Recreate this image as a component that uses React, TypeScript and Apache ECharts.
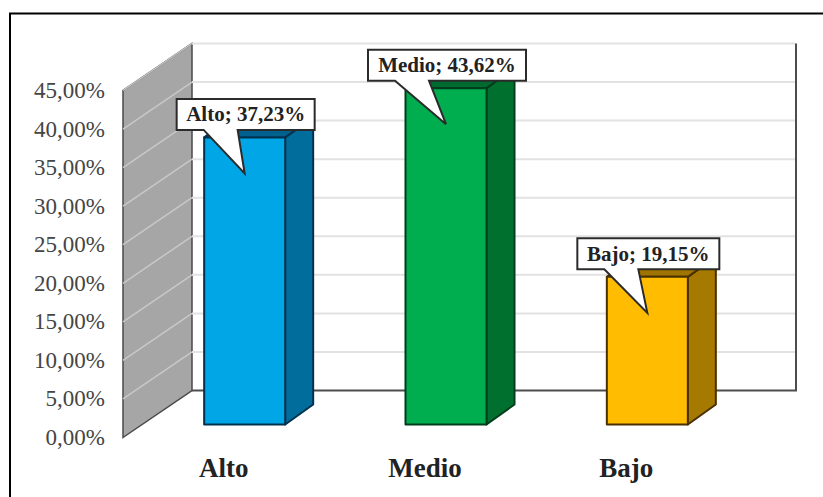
import React, { useEffect, useRef } from "react";
import * as echarts from "echarts";

const categories = ["Alto", "Medio", "Bajo"];
const values = [37.23, 43.62, 19.15];
const valueLabels = ["37,23%", "43,62%", "19,15%"];
const tickValues = [0, 5, 10, 15, 20, 25, 30, 35, 40, 45];
const tickLabels = ["0,00%", "5,00%", "10,00%", "15,00%", "20,00%", "25,00%", "30,00%", "35,00%", "40,00%", "45,00%"];
const frontColors = ["#00a6e6", "#00ae50", "#ffbc00"];
const sideColors = ["#006d9c", "#00702f", "#a67a00"];
const topColors = ["#00608e", "#006a30", "#a07400"];
const edgeColors = ["#00324f", "#003d1c", "#4a3000"];
const boxHalfWidths = [69, 79, 71];

const WALL_DX = 69;
const WALL_DY = 47;
const BAR_DX = 21;
const BAR_DY = 13;
const BAR_HALF = 40.5;
const SIDE_DX = 28;
const SIDE_DY = 20;

const serif = '"Liberation Serif", "Times New Roman", serif';

// Grey side wall, back wall outline and the gridlines folding across both.
function renderWalls(params: any, api: any) {
  const cs = params.coordSys;
  const tick = api.value(0);
  const y = api.coord([0, tick])[1];
  const x0 = cs.x;
  const x1 = x0 + WALL_DX;
  const xr = x0 + cs.width + WALL_DX;
  const children: any[] = [];
  if (params.dataIndex === 0) {
    const bottom = cs.y + cs.height;
    const top = cs.y;
    children.push({
      type: "polygon",
      shape: { points: [[x0, bottom], [x1, bottom - WALL_DY], [x1, top - WALL_DY], [x0, top]] },
      style: { fill: "#a6a6a6", stroke: "#4a4a4a", lineWidth: 1.5 },
    });
    children.push({
      type: "polyline",
      shape: { points: [[x1, bottom - WALL_DY], [xr, bottom - WALL_DY], [xr, top - WALL_DY]] },
      style: { fill: "none", stroke: "#4d4d4d", lineWidth: 2 },
    });
  } else {
    children.push({
      type: "line",
      shape: { x1: x0, y1: y, x2: x1, y2: y - WALL_DY },
      style: { stroke: "#c8c8c8", lineWidth: 1.5 },
    });
    children.push({
      type: "line",
      shape: { x1, y1: y - WALL_DY, x2: xr - 1, y2: y - WALL_DY },
      style: { stroke: "#e2e2e2", lineWidth: 2 },
    });
  }
  return { type: "group", children };
}

// Extruded column standing a little behind the front edge of the floor.
function renderBar(params: any, api: any) {
  const i = api.value(0);
  const center = api.coord([i, 0])[0] + BAR_DX;
  const base = api.coord([i, 0])[1] - BAR_DY;
  const top = api.coord([i, api.value(1)])[1] - BAR_DY;
  const l = center - BAR_HALF;
  const r = center + BAR_HALF;
  const edge = { stroke: edgeColors[i], lineWidth: 2, lineJoin: "round" };
  return {
    type: "group",
    children: [
      {
        type: "polygon",
        shape: { points: [[r, base], [r + SIDE_DX, base - SIDE_DY], [r + SIDE_DX, top - SIDE_DY], [r, top]] },
        style: { fill: sideColors[i], ...edge },
      },
      {
        type: "polygon",
        shape: { points: [[l, top], [l + SIDE_DX, top - SIDE_DY], [r + SIDE_DX, top - SIDE_DY], [r, top]] },
        style: { fill: topColors[i], ...edge },
      },
      {
        type: "rect",
        shape: { x: l, y: top, width: r - l, height: base - top },
        style: { fill: frontColors[i], ...edge },
      },
    ],
  };
}

// Speech-bubble label whose tail points into the column's front face.
function renderCallout(params: any, api: any) {
  const i = api.value(0);
  const cx = api.coord([i, 0])[0] + BAR_DX;
  const top = api.coord([i, api.value(1)])[1] - BAR_DY;
  const half = boxHalfWidths[i];
  const bx = cx + 1;
  const by = top - 23;
  const l = bx - half;
  const r = bx + half;
  const t = by - 15.5;
  const b = by + 15.5;
  return {
    type: "group",
    children: [
      {
        type: "polygon",
        shape: {
          points: [[l, t], [r, t], [r, b], [l + 61, b], [cx, top + 36], [l + 27, b], [l, b]],
        },
        style: { fill: "#ffffff", stroke: "#2b2b2b", lineWidth: 2 },
      },
      {
        type: "text",
        style: {
          text: `${categories[i]}; ${valueLabels[i]}`,
          x: bx,
          y: by,
          align: "center",
          verticalAlign: "middle",
          fill: "#222222",
          font: `bold 21px ${serif}`,
        },
      },
    ],
  };
}

export default function App() {
  const ref = useRef<HTMLDivElement>(null);

  useEffect(() => {
    document.body.style.margin = "0";
    const chart = echarts.init(ref.current, undefined, { renderer: "svg" });
    const barData = values.map((v, i) => [i, v]);
    chart.setOption({
      animation: false,
      backgroundColor: "#ffffff",
      grid: { left: 123, right: 96, top: 90.5, bottom: 59.5 },
      graphic: [
        {
          type: "polyline",
          silent: true,
          shape: { points: [[10, 497], [10, 13.5], [823, 13.5]] },
          style: { fill: "none", stroke: "#000000", lineWidth: 2 },
        },
      ],
      xAxis: {
        type: "category",
        data: categories,
        axisLine: { show: false },
        axisTick: { show: false },
        splitLine: { show: false },
        axisLabel: {
          margin: 17,
          color: "#222222",
          fontFamily: serif,
          fontWeight: "bold",
          fontSize: 27,
        },
      },
      yAxis: {
        type: "value",
        min: 0,
        max: 45,
        interval: 5,
        axisLine: { show: false },
        axisTick: { show: false },
        splitLine: { show: false },
        axisLabel: {
          margin: 18,
          color: "#454545",
          fontFamily: serif,
          fontSize: 23,
          formatter: (v: number) => tickLabels[tickValues.indexOf(v)],
        },
      },
      series: [
        {
          type: "custom",
          z: 1,
          clip: false,
          silent: true,
          renderItem: renderWalls,
          data: tickValues.map((t) => [t]),
          encode: { y: 0 },
        },
        {
          type: "custom",
          z: 2,
          clip: false,
          silent: true,
          renderItem: renderBar,
          data: barData,
          encode: { x: 0, y: 1 },
        },
        {
          type: "custom",
          z: 3,
          clip: false,
          silent: true,
          renderItem: renderCallout,
          data: barData,
          encode: { x: 0, y: 1 },
        },
      ],
    });
    return () => chart.dispose();
  }, []);

  return <div ref={ref} style={{ width: 823, height: 497 }} />;
}
